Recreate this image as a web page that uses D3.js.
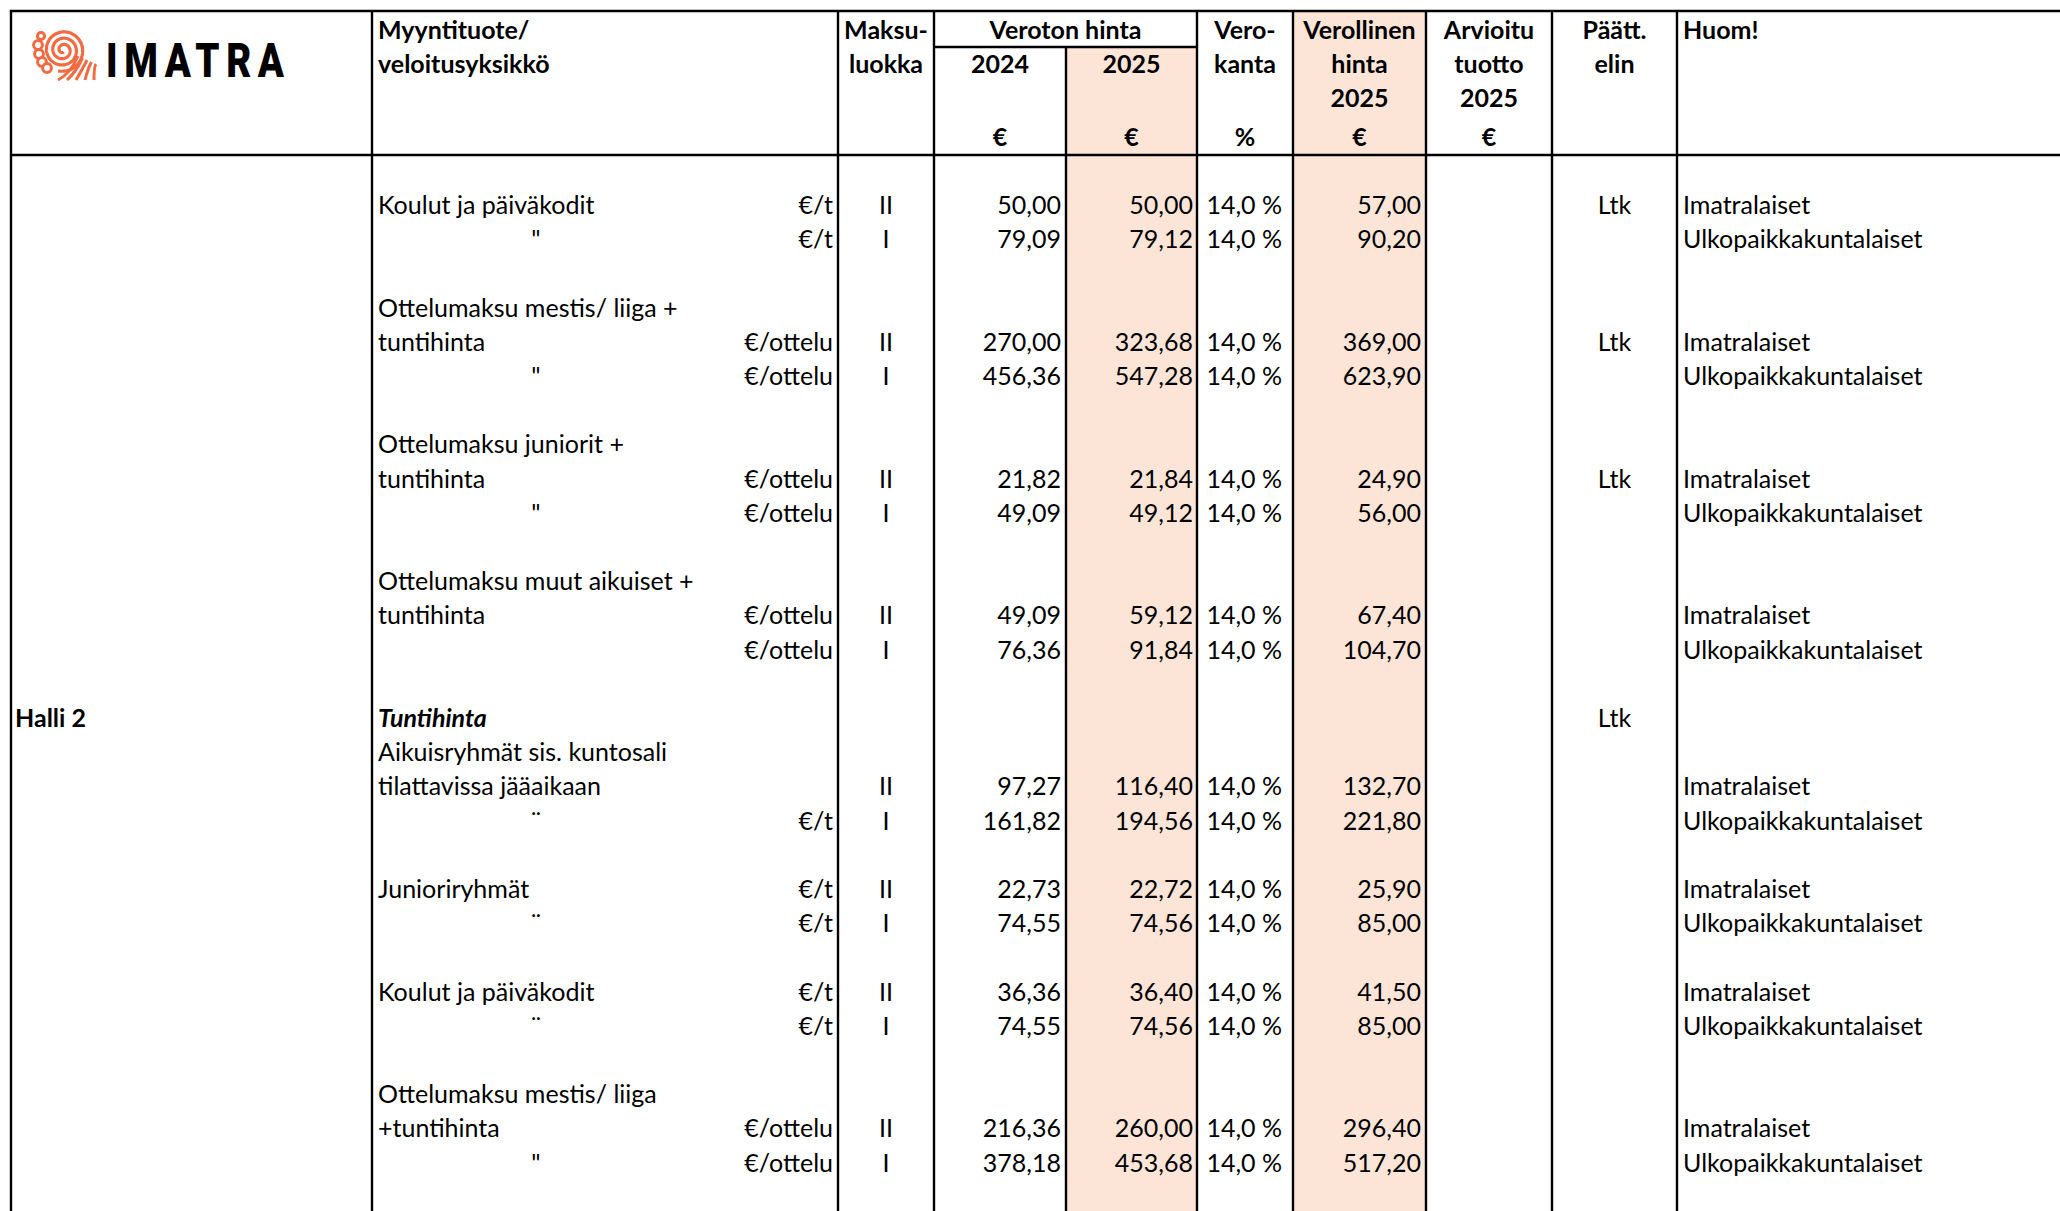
<!DOCTYPE html>
<html>
<head>
<meta charset="utf-8">
<script src="https://cdn.jsdelivr.net/npm/d3@7/dist/d3.min.js"></script>
<style>
  body { margin: 0; background: #fff; }
  svg { display: block; }
  text { font-family: Lato, "Open Sans", sans-serif; font-size: 25px; fill: #000; }
</style>
</head>
<body>
<svg width="2060" height="1211"></svg>
<script>
// rows of the price list (row index inside the body grid)
var priceRows = [0, 1, 4, 5, 8, 9, 12, 13, 17, 18, 20, 21, 23, 24, 27, 28];
var units = ["€/t", "€/t", "€/ottelu", "€/ottelu", "€/ottelu", "€/ottelu", "€/ottelu", "€/ottelu",
  "", "€/t", "€/t", "€/t", "€/t", "€/t", "€/ottelu", "€/ottelu"];
var feeClass = ["II", "I", "II", "I", "II", "I", "II", "I", "II", "I", "II", "I", "II", "I", "II", "I"];
var price2024 = [50.00, 79.09, 270.00, 456.36, 21.82, 49.09, 49.09, 76.36,
  97.27, 161.82, 22.73, 74.55, 36.36, 74.55, 216.36, 378.18];
var price2025 = [50.00, 79.12, 323.68, 547.28, 21.84, 49.12, 59.12, 91.84,
  116.40, 194.56, 22.72, 74.56, 36.40, 74.56, 260.00, 453.68];
var vatRate = [14, 14, 14, 14, 14, 14, 14, 14, 14, 14, 14, 14, 14, 14, 14, 14];
var priceWithVat = [57.00, 90.20, 369.00, 623.90, 24.90, 56.00, 67.40, 104.70,
  132.70, 221.80, 25.90, 85.00, 41.50, 85.00, 296.40, 517.20];
var notes = ["Imatralaiset", "Ulkopaikkakuntalaiset", "Imatralaiset", "Ulkopaikkakuntalaiset",
  "Imatralaiset", "Ulkopaikkakuntalaiset", "Imatralaiset", "Ulkopaikkakuntalaiset",
  "Imatralaiset", "Ulkopaikkakuntalaiset", "Imatralaiset", "Ulkopaikkakuntalaiset",
  "Imatralaiset", "Ulkopaikkakuntalaiset", "Imatralaiset", "Ulkopaikkakuntalaiset"];

// product description lines
var productLines = [
  [0, "Koulut ja päiväkodit"],
  [3, "Ottelumaksu mestis/ liiga +"], [4, "tuntihinta"],
  [7, "Ottelumaksu juniorit +"], [8, "tuntihinta"],
  [11, "Ottelumaksu muut aikuiset +"], [12, "tuntihinta"],
  [16, "Aikuisryhmät sis. kuntosali"], [17, "tilattavissa jääaikaan"],
  [20, "Junioriryhmät"],
  [23, "Koulut ja päiväkodit"],
  [26, "Ottelumaksu mestis/ liiga"], [27, "+tuntihinta"]
];
var dittoLines = [[1, "\""], [5, "\""], [9, "\""], [18, "¨"], [21, "¨"], [24, "¨"], [28, "\""]];
var decisionRows = [0, 4, 8, 15];
var groupLabel = [15, "Halli 2"];
var subHeading = [15, "Tuntihinta"];

var headerLines = [
  { x: 378, anchor: "start", lines: ["Myyntituote/", "veloitusyksikkö"] },
  { x: 886, lines: ["Maksu-", "luokka"] },
  { x: 1065.5, lines: ["Veroton hinta"] },
  { x: 1000, lines: [null, "2024", null, "€"] },
  { x: 1131.5, lines: [null, "2025", null, "€"] },
  { x: 1245, lines: ["Vero-", "kanta", null, "%"] },
  { x: 1359.5, lines: ["Verollinen", "hinta", "2025", "€"] },
  { x: 1489, lines: ["Arvioitu", "tuotto", "2025", "€"] },
  { x: 1614.5, lines: ["Päätt.", "elin"] },
  { x: 1683, anchor: "start", lines: ["Huom!"] }
];

var W = 2060, H = 1211;
var colEdges = [11, 372, 838, 934, 1066, 1197, 1293, 1426, 1552, 1677];
var tableTop = 11, subLine = 47, headBottom = 155;
var headBase = [38.5, 72.5, 106.5, 146];
var shade = "#fce5d7";

var svg = d3.select("svg");
var y = d3.scaleLinear().domain([0, 28]).range([214, 1171.6]);

var fi = d3.formatLocale({ decimal: ",", thousands: "\u00a0", grouping: [3], currency: ["", "€"] });
var money = fi.format(".2f");
var pct = function (v) { return fi.format(".1f")(v) + " %"; };

// shaded columns
svg.append("rect").attr("x", colEdges[4]).attr("y", subLine).attr("width", colEdges[5] - colEdges[4])
  .attr("height", H - subLine).attr("fill", shade);
svg.append("rect").attr("x", colEdges[6]).attr("y", tableTop).attr("width", colEdges[7] - colEdges[6])
  .attr("height", H - tableTop).attr("fill", shade);

// grid lines
var grid = svg.append("g").attr("stroke", "#000").attr("stroke-width", 2.4);
grid.selectAll("line.v").data(colEdges).enter().append("line")
  .attr("class", "v")
  .attr("x1", function (d) { return d; }).attr("x2", function (d) { return d; })
  .attr("y1", function (d, i) { return i === 4 ? subLine : tableTop; }) // 2024/2025 split only below the sub line
  .attr("y2", H);
grid.append("line").attr("x1", colEdges[0] - 1.2).attr("x2", W).attr("y1", tableTop).attr("y2", tableTop);
grid.append("line").attr("x1", colEdges[0]).attr("x2", W).attr("y1", headBottom).attr("y2", headBottom);
grid.append("line").attr("x1", colEdges[3]).attr("x2", colEdges[5]).attr("y1", subLine).attr("y2", subLine);

// header
var head = svg.append("g").style("font-weight", 700);
headerLines.forEach(function (h) {
  h.lines.forEach(function (t, i) {
    if (!t) return;
    head.append("text").attr("x", h.x).attr("y", headBase[i])
      .attr("text-anchor", h.anchor || "middle").text(t);
  });
});

// logo
var logo = svg.append("g");
var orange = "#f26a41";
var spiral = d3.range(0, 3.1 * 2 * Math.PI, 0.05).map(function (a) {
  var r = 2 + a * 1.0;
  return [63 + r * Math.cos(a + 1.2), 50 + r * Math.sin(a + 1.2)];
});
logo.append("path").attr("d", d3.line()(spiral)).attr("fill", "none")
  .attr("stroke", orange).attr("stroke-width", 3.2);
[[41, 36], [38, 45], [39, 54], [42, 62], [47, 68]].forEach(function (c, i) {
  logo.append("circle").attr("cx", c[0]).attr("cy", c[1]).attr("r", i === 0 ? 3.6 : 4.4)
    .attr("fill", "#fff").attr("stroke", orange).attr("stroke-width", 3);
});
d3.range(5).forEach(function (i) {
  var p = d3.path();
  p.moveTo(58 + i * 9, 80);
  p.quadraticCurveTo(70 + i * 6, 74 - i * 2, 78 + i * 4.5, 56 + i * 2);
  logo.append("path").attr("d", p.toString()).attr("fill", "none")
    .attr("stroke", orange).attr("stroke-width", 3);
});
logo.append("g").attr("transform", "translate(106,77) scale(0.8,1)")
  .append("text").style("font-family", "Roboto, sans-serif").style("font-weight", 900)
  .style("font-size", "48px").attr("textLength", 178 / 0.8).attr("lengthAdjust", "spacing")
  .text("IMATRA");

// body
var body = svg.append("g");
body.selectAll("text.prod").data(productLines).enter().append("text")
  .attr("x", 378).attr("y", function (d) { return y(d[0]); }).text(function (d) { return d[1]; });
body.selectAll("text.ditto").data(dittoLines).enter().append("text")
  .attr("x", 536).attr("y", function (d) { return y(d[0]); }).attr("text-anchor", "middle")
  .text(function (d) { return d[1]; });
body.append("text").attr("x", 15).attr("y", y(groupLabel[0])).style("font-weight", 700).text(groupLabel[1]);
body.append("text").attr("x", 378).attr("y", y(subHeading[0])).style("font-weight", 700)
  .style("font-style", "italic").text(subHeading[1]);
body.selectAll("text.ltk").data(decisionRows).enter().append("text")
  .attr("x", 1614.5).attr("y", function (d) { return y(d); }).attr("text-anchor", "middle").text("Ltk");

var cols = [
  { x: 833, anchor: "end", val: function (i) { return units[i]; } },
  { x: 886, anchor: "middle", val: function (i) { return feeClass[i]; } },
  { x: 1061, anchor: "end", val: function (i) { return money(price2024[i]); } },
  { x: 1193, anchor: "end", val: function (i) { return money(price2025[i]); } },
  { x: 1282, anchor: "end", val: function (i) { return pct(vatRate[i]); } },
  { x: 1421, anchor: "end", val: function (i) { return money(priceWithVat[i]); } },
  { x: 1683, anchor: "start", val: function (i) { return notes[i]; } }
];
cols.forEach(function (c) {
  body.selectAll(null).data(priceRows).enter().append("text")
    .attr("x", c.x).attr("y", function (d) { return y(d); })
    .attr("text-anchor", c.anchor)
    .text(function (d, i) { return c.val(i); });
});
</script>
</body>
</html>
